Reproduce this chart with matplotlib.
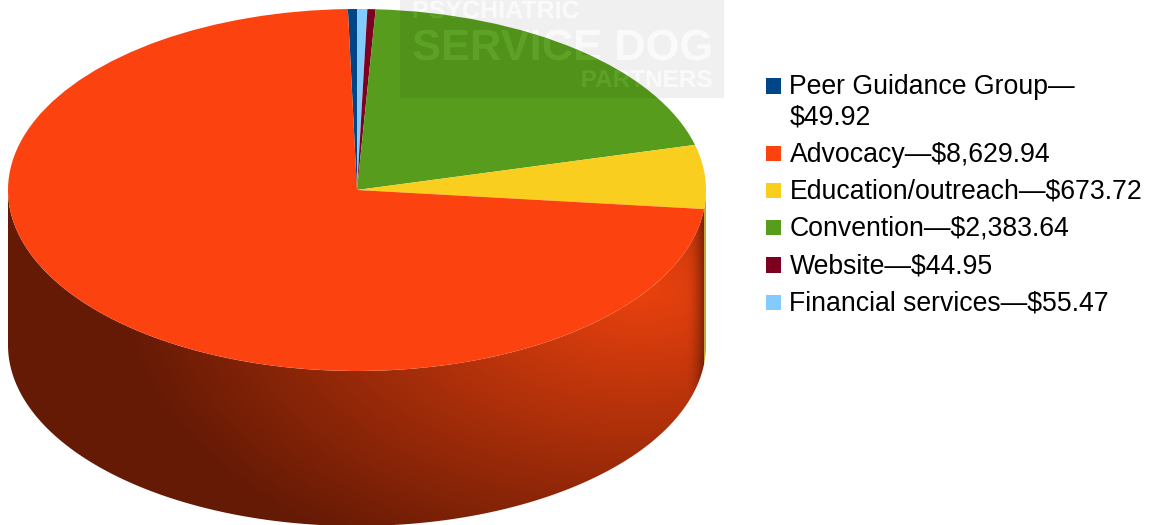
import matplotlib as mpl
mpl.use('Agg')
import matplotlib.pyplot as plt
import matplotlib.patheffects as pe
from matplotlib.patches import Rectangle, Polygon
import numpy as np

plt.rcParams['font.family'] = ['Liberation Sans', 'DejaVu Sans']

# legend order
labels = ['Peer Guidance Group—\n$49.92', 'Advocacy—$8,629.94', 'Education/outreach—$673.72',
          'Convention—$2,383.64', 'Website—$44.95', 'Financial services—$55.47']
colors = ['#004586', '#fc420e', '#f9ce1f', '#579c1c', '#7e0021', '#83caff']
legend_y = [85.5, 153, 190, 227, 264.5, 302]

# order going round the pie, clockwise from the top
slice_names = ['Peer', 'Financial', 'Website', 'Convention', 'Education', 'Advocacy']
slice_values = [49.92, 55.47, 44.95, 2383.64, 673.72, 8629.94]
slice_colors = ['#004586', '#83caff', '#7e0021', '#579c1c', '#f9ce1f', '#fc420e']

W, H = 1151, 525
cx, cy, rx, ry = 357.0, 190.0, 349.0, 181.0
depth = 155.0

fig = plt.figure(figsize=(W / 100, H / 100), dpi=100)

# pixel axes for the side wall
bg = fig.add_axes([0, 0, 1, 1], zorder=1)
bg.set_xlim(0, W)
bg.set_ylim(H, 0)
bg.axis('off')

# top face
pie_ax = fig.add_axes([(cx - rx) / W, 1 - (cy + ry) / H, 2 * rx / W, 2 * ry / H], zorder=2)
wedges, _ = pie_ax.pie(slice_values, colors=slice_colors, startangle=91.5, counterclock=False,
                       radius=1, wedgeprops={'linewidth': 0})
pie_ax.set_aspect('auto')
pie_ax.set_xlim(-1, 1)
pie_ax.set_ylim(-1, 1)

# overlay: watermark and legend
top = fig.add_axes([0, 0, 1, 1], zorder=3)
top.set_xlim(0, W)
top.set_ylim(H, 0)
top.axis('off')
top.patch.set_alpha(0)


def rim(a):
    a = np.radians(a)
    return cx + rx * np.cos(a), cy - ry * np.sin(a)


# wall of the big slice, shaded around a light spot on the lower right
adv = wedges[slice_names.index('Advocacy')]
angles = np.linspace(adv.theta2, -180, 300)
x0, y0 = rim(angles)
wall_pts = np.column_stack([np.r_[x0, x0[::-1]], np.r_[y0 + depth, y0[::-1]]])
wall = Polygon(wall_pts, closed=True, transform=bg.transData, fc='none', ec='none')
bg.add_patch(wall)

xx, yy = np.meshgrid(np.arange(W) + 0.5, np.arange(H) + 0.5)
d = np.hypot(xx - 640, (yy - 290) * 1.7)
t = np.clip(d / 520, 0, 1)[..., None]
light = np.array([0xea, 0x42, 0x0e]) / 255
dark = np.array([0x65, 0x1a, 0x05]) / 255
shade = light * (1 - t) + dark * t
edge = np.clip((xx - 685) / 20, 0, 1)[..., None]
shade = shade * (1 - 0.45 * edge ** 2)
im = bg.imshow(shade, extent=(0, W, H, 0), aspect='auto', interpolation='nearest')
im.set_clip_path(wall)
bg.set_xlim(0, W)
bg.set_ylim(H, 0)

# thin strip of the yellow slice wall at the far right
edu = wedges[slice_names.index('Education')]
a2 = np.linspace(0, edu.theta1, 20)
x1, y1 = rim(a2)
bg.add_patch(Polygon(np.column_stack([np.r_[x1, x1[::-1]], np.r_[y1 + depth, y1[::-1]]]),
                     closed=True, fc='#c4a52e', ec='none', zorder=0.5))

# watermark: the lettering is a cut-out, so it shows white off the pie and plain green on it
top.add_patch(Rectangle((400, 0), 324, 98, fc='black', alpha=0.06, ec='none'))
arc_x, arc_y = rim(np.linspace(90, 0, 100))
outside = Polygon(np.column_stack([np.r_[arc_x, 800, 800, arc_x[0]], np.r_[arc_y, cy, -10, -10]]),
                  closed=True, transform=top.transData)
marks = [('PSYCHIATRIC', 412, 18, 'left', 18), ('SERVICE DOG', 412, 60, 'left', 31.3),
         ('PARTNERS', 712, 87, 'right', 17.5)]
green = wedges[slice_names.index('Convention')]
for txt, x, y, ha, size in marks:
    for col, clip in (('#fafafa', outside), ('#5da226', green)):
        s = top.text(x, y, txt, color=col, fontsize=size, fontweight='bold', ha=ha, va='baseline',
                     path_effects=[pe.Normal()])
        s.set_clip_path(clip)
        s.set_clip_on(True)

# legend
for lab, col, y in zip(labels, colors, legend_y):
    top.add_patch(Rectangle((766, y - 7.5), 15.5, 15.5, fc=col, ec='none'))
    top.text(789.5, y + 8.5, lab.split('\n')[0], fontsize=19.15, color='black', va='baseline')
    if '\n' in lab:
        top.text(789.5, y + 39, lab.split('\n')[1], fontsize=19.15, color='black', va='baseline')

fig.savefig('out.png', dpi=100)
